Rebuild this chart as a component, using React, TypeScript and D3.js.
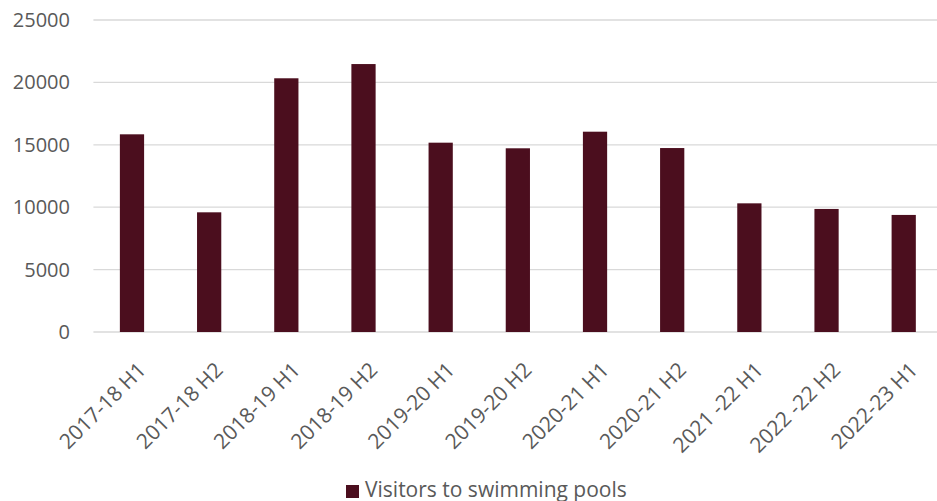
import React from "react";
import * as d3 from "d3";

const categories = [
  "2017-18 H1", "2017-18 H2", "2018-19 H1", "2018-19 H2", "2019-20 H1",
  "2019-20 H2", "2020-21 H1", "2020-21 H2", "2021 -22 H1", "2022 -22 H2", "2022-23 H1",
];
const visitors = [15840, 9590, 20330, 21470, 15170, 14720, 16050, 14740, 10310, 9860, 9380];
const yTicks = [0, 5000, 10000, 15000, 20000, 25000];
const seriesName = "Visitors to swimming pools";

const W = 937, H = 501;
const left = 93.4, right = 942.3, top = 20, bottom = 332;
const color = "#4B0E1E";
const font = "'Open Sans', sans-serif";

export default function App() {
  const x = d3.scaleBand<string>().domain(categories).range([left, right]).paddingInner(0.686).paddingOuter(0.343);
  const y = d3.scaleLinear().domain([0, 25000]).range([bottom, top]);
  return (
    <svg width={W} height={H} style={{ position: "absolute", left: 0, top: 0, background: "#fff" }}>
      {yTicks.map((t) => (
        <g key={t}>
          <line x1={left} x2={W} y1={y(t)} y2={y(t)} stroke="#D9D9D9" strokeWidth={1.3} />
          <text x={70} y={y(t)} dy="0.35em" textAnchor="end" fontFamily={font} fontSize={20} fill="#595959">
            {t}
          </text>
        </g>
      ))}
      {categories.map((c, i) => (
        <rect key={c} x={x(c)} y={y(visitors[i])} width={x.bandwidth()} height={bottom - y(visitors[i])} fill={color} />
      ))}
      {categories.map((c) => {
        const cx = (x(c) as number) + x.bandwidth() / 2;
        return (
          <text key={c} transform={`translate(${cx + 10},${bottom + 34}) rotate(-45)`} textAnchor="end" dy="0.35em"
            fontFamily={font} fontSize={21} fill="#595959">
            {c}
          </text>
        );
      })}
      <rect x={346} y={485} width={13} height={13} fill={color} />
      <text x={365} y={497} fontFamily={font} fontSize={21} fill="#595959">{seriesName}</text>
    </svg>
  );
}
